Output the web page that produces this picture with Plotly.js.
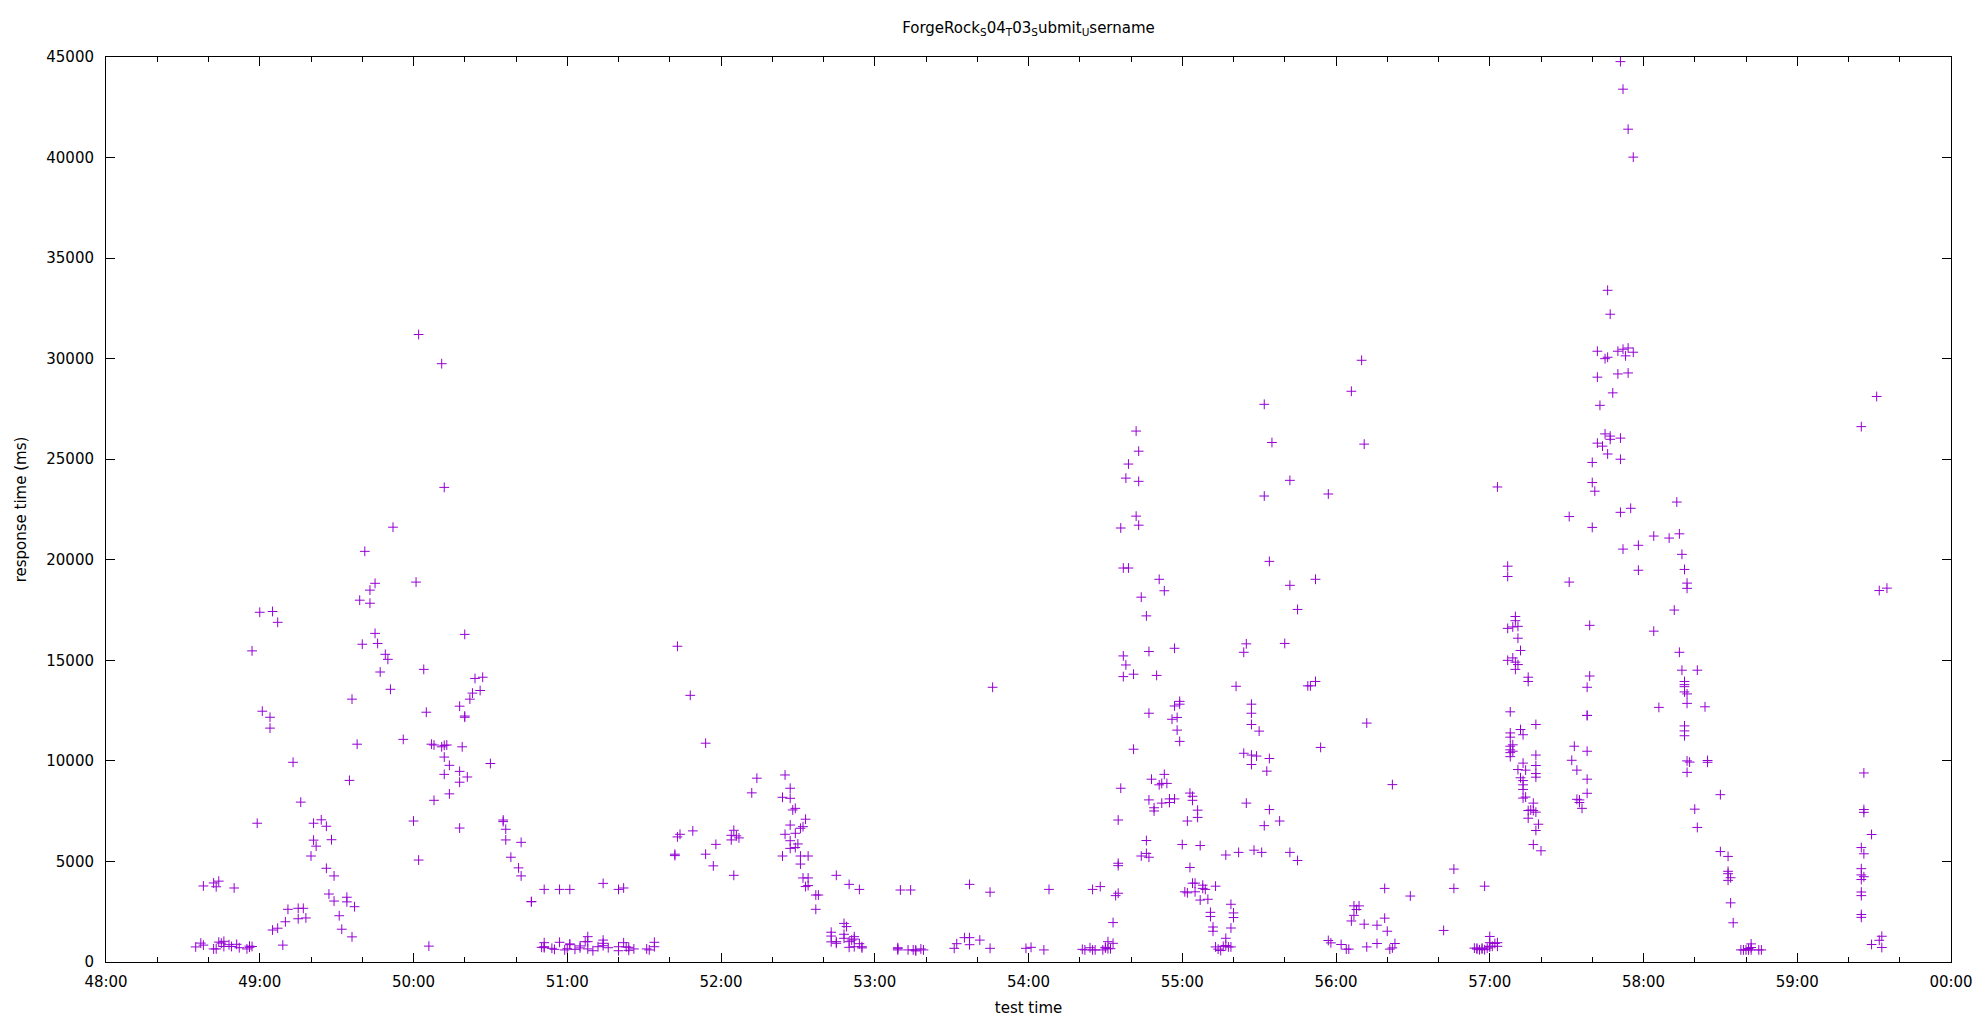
<!DOCTYPE html>
<html>
<head>
<meta charset="utf-8">
<script src="https://cdn.plot.ly/plotly-3.0.1.min.js"></script>
<style>html,body{margin:0;padding:0;background:#fff;}#chart{width:1980px;height:1024px;}</style>
</head>
<body>
<div id="chart"></div>
<script>
// test time (mm:ss) and response time (ms)
const testTime = [
"48:35","48:37","48:38","48:38","48:42","48:43","48:42","48:43","48:44","48:44","48:45","48:46","48:46","48:48","48:49","48:50","48:51","48:52","48:55","48:56","48:56","48:57",
"48:57","48:59","49:00","49:01","49:04","49:04","49:05","49:07","49:05","49:07","49:10","49:09","49:11","49:13","49:15","49:15","49:17","49:18","49:16",
"49:20","49:21","49:21","49:22","49:24","49:26","49:28","49:26","49:29","49:27","49:29","49:31","49:32","49:34","49:34","49:37","49:36","49:35","49:36","49:38",
"49:39","49:41","49:43","49:43","49:45","49:40","49:45","49:46","49:49","49:50","49:47","49:51","49:52","49:56","50:00","50:01","50:02","50:04","50:05","50:06",
"50:07","50:08","50:08","50:11","50:12","50:13","50:12","50:12","50:12","50:14","50:14","50:18","50:18","50:18","50:18","50:19","50:20","50:20","50:20","50:21",
"50:22","50:23","50:24","50:26","50:27","50:30","50:02","50:11",
"50:35","50:35","50:36","50:36","50:42","50:38","50:41","50:42","50:46","50:46","50:51","50:57","51:01","51:14","51:20","51:22",
"50:51","50:51","50:50","50:51","50:54","50:55","50:57","50:59","51:00","51:01","51:01","51:03","51:05","51:05","51:07","51:08","51:08","51:08","51:10","51:12",
"51:14","51:14","51:14","51:16","51:20","51:20","51:22","51:23","51:24","51:24","51:26","51:31","51:32","51:34","51:34",
"51:43","51:48","51:54","51:42","51:42","51:43","51:44","51:49","51:54","51:58","51:57","52:05","52:04","52:04","52:05","52:06","52:07","52:12","52:14",
"52:25","52:24","52:27","52:27","52:28","52:29","52:27","52:25","52:29","52:31","52:32","52:33","52:27","52:27","52:29","52:30","52:24","52:31","52:31","52:34",
"52:32","52:34","52:33","52:34",
"52:37","52:38","52:37","52:45","52:50","52:54","52:43","52:43","52:43","52:45","52:45","52:48","52:49","52:48","52:48","52:50","52:51","52:52","52:52","52:50",
"52:52","52:54","52:55","52:55","53:09","53:09","53:09","53:10","53:14","53:13","53:15","53:16","53:16","53:18","53:19","53:31","53:32","53:35","53:37","53:37",
"53:37","53:41","53:45","53:45","53:46","53:59","54:01","54:06","54:08","54:21","54:22","54:24","54:25","54:25","54:26","54:28","54:29","54:30","54:30","54:31",
"54:31","54:32","54:33","54:33","54:34","54:35","54:35","54:35","54:35","54:36","54:37","54:38","54:37","54:41","54:41","54:46","54:47","54:47","54:47","54:48",
"54:46","54:44","54:46","54:47",
"54:42","54:43","54:39","54:38","54:43","54:42","54:43","54:36","54:37","54:39","54:51","54:53","54:44","54:57","54:50","54:57","54:59","54:59","54:58","54:56",
"54:58","54:59","54:53","54:51","54:52","54:54","54:49","54:49","54:52","54:55","54:55","54:57","55:03","55:04","55:04","55:06","55:06","55:02","55:00","55:07",
"55:03","55:04","55:05","55:01","55:02","55:05","55:08","55:08","55:09","55:13","55:07","55:10","55:11","55:11","55:19","55:20","55:20","55:12","55:12","55:19",
"55:17","55:13","55:14","55:15","55:16","55:17","55:18","55:19","55:17","55:22","55:28","55:31","55:42","55:45","55:21","55:24","55:25","55:34","55:32","55:35",
"55:42","55:42","55:40","55:45","55:52","55:57","56:11","55:27","55:27","55:27","55:30","55:24","55:27","55:29","55:27","55:34","55:33","55:25","55:34","55:32",
"55:38","55:49","55:50","55:52","55:54","56:12","56:22","56:19","56:29","55:57","55:58","56:02","56:04","56:05","56:07","56:09","56:08","56:07","56:06","56:11",
"56:16","56:19","56:20","56:12","56:16","56:21","56:22","56:23","55:32","56:06","56:10",
"56:42","56:46","56:46","56:58","57:00","56:54","56:55","56:55","56:56","56:57","56:57","56:58","56:59","57:00","57:00","57:01","57:02","57:03","57:03","57:00",
"57:03","57:07","57:07","57:10","57:10","57:11","57:09","57:07","57:11","57:12","57:07","57:09","57:10","57:11","57:10","57:15","57:15","57:08","57:08","57:08",
"57:09","57:08","57:08","57:08","57:08","57:09","57:12","57:13","57:18","57:18","57:18","57:18","57:18","57:13","57:11","57:14","57:12","57:13","57:13","57:13",
"57:13","57:14","57:15","57:16","57:17","57:18","57:17","57:15","57:19","57:18","57:17","57:20","57:31","57:31","57:39","57:40","57:40","57:41","57:40","57:39",
"57:38","57:38","57:38","57:33","57:32","57:34","57:38","57:38","57:38","57:34","57:35","57:35","57:36","57:45","57:42","57:44","57:47","57:47","57:51","57:46",
"57:51","57:51","57:55","57:52","57:58","57:58","58:04","58:10","58:14","58:13","58:15","58:16","58:17","58:17","58:12","58:04","58:14","58:15","58:21","58:16",
"58:16","58:16","58:16","58:17","58:17","58:06","58:16","58:16","58:16","58:17","58:18","58:17","58:20","58:21",
"57:51","57:52","57:54","57:56","57:46","57:47","57:42","57:45","57:46","57:50","57:52","57:54","57:56","57:53","57:42","57:50","57:54","57:48","57:43",
"59:25","59:32","59:35","58:24","58:25","58:25","58:30","58:30","58:33","58:33","58:33","58:34","58:33","58:34","58:35","58:38","58:39","58:40","58:41","58:41",
"58:42","58:42","58:42","58:45","58:46","59:26","59:26","59:26","59:29","59:25","59:26","59:25","59:25","59:26","59:25","59:25","59:25","59:25","59:25","59:29",
"59:32","59:33","59:33","59:31"
];
const responseMs = [
750,940,840,3780,3930,3740,650,650,4020,990,940,1030,770,860,770,3680,880,710,650,730,790,770,
15470,6900,17390,12470,12170,11630,17430,16890,1590,1680,2000,840,2620,9930,2670,2150,2670,2190,7950,
5270,6060,6900,5760,7070,6750,6080,4660,4280,3380,3030,2300,1630,2990,3220,2750,1250,9030,13070,10830,
17990,20420,18490,17840,18830,15800,16340,15840,15300,15050,14420,13560,21620,11070,7010,18890,5070,14550,12420,790,
10830,10790,8040,10700,10770,10790,23600,10190,9330,9780,8360,12720,9480,8940,6660,10700,12230,16290,12170,9200,
13070,13370,14100,13500,14160,9870,31200,29750,
7060,6980,6600,6070,5950,5210,4680,4280,3000,3000,3610,3610,3610,3910,3610,3680,
960,710,730,760,680,630,980,600,660,860,900,630,800,700,1010,1260,650,1010,560,760,
930,1090,810,710,760,560,960,750,730,580,650,650,600,980,760,
15700,13260,10880,5360,5290,6220,6350,6520,5360,5850,4780,4310,6070,6300,6550,6270,6170,8410,9140,
9300,8190,8140,8640,7560,7640,6810,6350,6400,6650,6730,7100,6030,5650,5690,5870,5270,5270,4870,5270,
4180,4180,3750,3800,
3330,3330,2620,4310,3860,3610,1480,1290,1000,1010,930,1920,1760,1380,1180,1010,1090,1260,1140,730,
760,910,760,700,660,710,600,3580,3580,600,600,550,600,650,600,680,910,1210,1210,860,
3860,1090,3470,680,13660,680,730,600,3610,630,600,710,3610,600,600,3750,600,700,730,1010,
660,660,930,1960,3300,3420,4910,4790,7060,8640,15220,14770,14190,14310,10580,17210,15440,12370,8060,9090,
6040,5270,5400,5210,
26400,25400,24760,24060,23900,22170,21720,21580,19590,19590,19030,18460,18140,15600,14250,12730,12960,12820,12160,12070,
11530,10970,9330,8810,8880,8880,7670,7510,7900,8110,7930,8110,8400,8240,8040,7550,7190,7010,5840,5790,
4700,3920,3920,3490,3440,3490,3820,3660,3610,3770,3080,3120,2470,2260,2870,2440,2210,1740,1530,1690,
1180,750,640,570,780,820,750,750,5320,5450,5560,5450,5450,5050,13710,15400,15820,19920,23170,25830,
23950,18730,15840,17530,19030,23270,25750,12820,12370,11810,11480,10380,10290,10240,9820,10120,9490,7900,7580,6780,
7010,13730,13730,13950,10670,11880,8820,3660,3280,1070,950,870,640,640,2790,2790,2610,2320,2040,1880,
1830,2180,1530,750,920,640,700,920,27730,28380,29920,
1570,3660,4620,3770,1270,690,640,690,610,690,640,610,690,780,750,780,920,780,960,960,
23620,19680,19170,17180,16970,16690,16660,16590,16100,15490,15000,15120,14910,14790,14550,14160,13950,12440,11390,11180,
10800,10730,10550,10410,10210,10480,11560,11300,11810,10290,9770,9370,9190,9890,9570,9540,9160,9020,8810,8580,
8150,8200,7530,7560,7530,7450,7900,7150,6850,6540,5840,5530,22150,18890,16740,24840,23840,23410,21610,14220,
13660,12260,12260,10730,10030,9540,10480,9090,8390,8090,8060,7930,7640,26260,25800,25650,26150,25990,26050,25260,
25000,22360,22560,20530,20720,19480,21180,21080,21290,22870,20270,19520,18840,18580,17500,16450,15400,14510,14510,13950,
13790,13690,13430,13330,12860,12660,11740,11490,11250,10000,9940,9430,7600,6690,
44770,43400,41410,40020,33400,32210,30370,30000,30070,30370,30470,30530,30320,30140,29080,29240,29290,28300,27680,
26620,18470,18590,12690,10020,9930,8320,5490,5250,4510,4390,4190,4060,2940,1950,600,600,600,670,600,
720,900,600,600,600,9400,7580,7440,6340,5690,5380,4640,4330,4240,4100,3480,3300,2360,2220,870,
1080,1280,720,28120
];
const xTickLabels = ["48:00","49:00","50:00","51:00","52:00","53:00","54:00","55:00","56:00","57:00","58:00","59:00","00:00"];

const FONT = "DejaVu Sans, Liberation Sans, sans-serif";
const toDate = t => {
  const [m, s] = t.split(":");
  return "2024-01-01 00:" + m + ":" + s;
};
const tickVals = xTickLabels.map((_, i) => {
  const total = 48 + i;
  const hh = total >= 60 ? "01" : "00";
  const mm = String(total % 60).padStart(2, "0");
  return "2024-01-01 " + hh + ":" + mm + ":00";
});

const trace = {
  type: "scatter",
  mode: "markers",
  x: testTime.map(toDate),
  y: responseMs,
  marker: {symbol: "cross-thin", size: 7, color: "#9400d3", line: {width: 1, color: "#9400d3"}},
  hoverinfo: "x+y"
};

const layout = {
  width: 1980, height: 1024,
  paper_bgcolor: "#fff", plot_bgcolor: "#fff",
  margin: {l: 106, r: 29, t: 57, b: 62, pad: 0},
  showlegend: false,
  font: {family: FONT, size: 15, color: "#000"},
  title: {
    text: "ForgeRock<sub>S</sub>04<sub>T</sub>03<sub>S</sub>ubmit<sub>U</sub>sername",
    font: {family: FONT, size: 15, color: "#000"},
    x: 0.5, xref: "paper", xanchor: "center", y: 1 - 28/1024, yref: "container", yanchor: "middle"
  },
  xaxis: {
    type: "date",
    range: [tickVals[0], tickVals[tickVals.length - 1]],
    tickmode: "array", tickvals: tickVals, ticktext: xTickLabels,
    ticks: "inside", ticklen: 9, tickwidth: 1, tickcolor: "#000",
    minor: {dtick: 20000, tick0: tickVals[0], ticks: "inside", ticklen: 5, tickwidth: 1, tickcolor: "#000", showgrid: false},
    showline: true, linecolor: "#000", linewidth: 1, mirror: "ticks",
    showgrid: false, zeroline: false,
    tickfont: {family: FONT, size: 15, color: "#000"},
    ticklabelstandoff: 6,
    title: {text: "test time", font: {family: FONT, size: 15, color: "#000"}, standoff: 12},
    automargin: false, fixedrange: true
  },
  yaxis: {
    range: [0, 45000], dtick: 5000, tick0: 0, tickformat: "d",
    ticks: "inside", ticklen: 9, tickwidth: 1, tickcolor: "#000",
    showline: true, linecolor: "#000", linewidth: 1, mirror: "ticks",
    showgrid: false, zeroline: false,
    tickfont: {family: FONT, size: 15, color: "#000"},
    ticklabelstandoff: 8,
    title: {text: "response time (ms)", font: {family: FONT, size: 15, color: "#000"}, standoff: 16},
    automargin: false, fixedrange: true
  }
};

Plotly.newPlot("chart", [trace], layout, {displayModeBar: false, staticPlot: true});
</script>
</body>
</html>
